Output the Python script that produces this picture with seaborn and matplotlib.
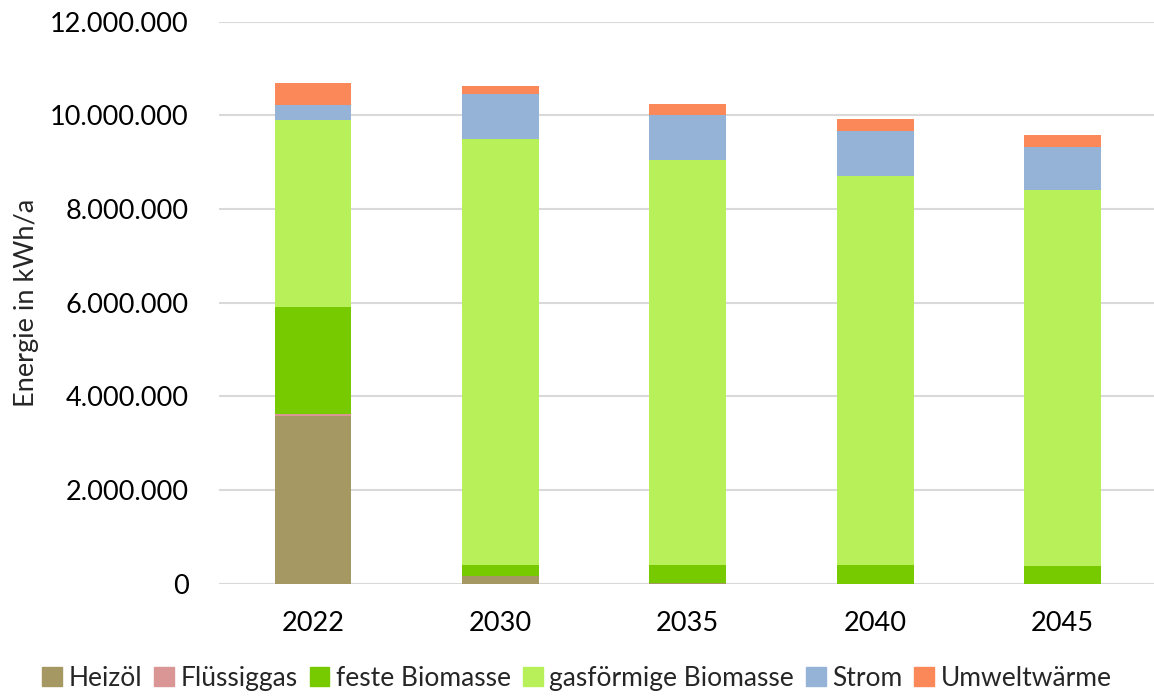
import numpy as np
import pandas as pd
import matplotlib
matplotlib.use("Agg")
import matplotlib.pyplot as plt
import matplotlib.patches as mpatches
import seaborn as sns

years = ["2022", "2030", "2035", "2040", "2045"]
traeger = ["Heizöl", "Flüssiggas", "feste Biomasse", "gasförmige Biomasse", "Strom", "Umweltwärme"]
heizoel = [3570000, 170000, 20000, 0, 0]
fluessiggas = [50000, 0, 0, 0, 0]
feste_biomasse = [2280000, 236000, 380000, 390000, 370000]
gas_biomasse = [3990000, 9090000, 8640000, 8315000, 8043000]
strom = [330000, 955000, 967000, 953000, 918000]
umweltwaerme = [460000, 170000, 240000, 256000, 250000]
farben = ["#A59862", "#DA9694", "#77C900", "#B7F059", "#95B3D7", "#FA8858"]

werte = [heizoel, fluessiggas, feste_biomasse, gas_biomasse, strom, umweltwaerme]

sns.set_style("white")
plt.rcParams['font.family'] = ['Lato', 'DejaVu Sans']

fig = plt.figure(figsize=(11.54, 6.99), dpi=100)
ax = fig.add_axes([0.190, 0.165, 0.812, 0.804])

# gestapelt: kumulierte Summen von oben nach unten zeichnen
kum = np.cumsum(np.array(werte), axis=0)
for i in range(len(traeger) - 1, -1, -1):
    df = pd.DataFrame({"Jahr": years, "Wert": kum[i]})
    sns.barplot(data=df, x="Jahr", y="Wert", color=farben[i], width=0.41,
                saturation=1, linewidth=0, ax=ax, zorder=3)

ax.set_ylim(0, 12000000)
ax.set_xlim(-0.5, 4.5)
ax.set_yticks(range(0, 12000001, 2000000))
ax.set_yticklabels([f"{v:,}".replace(",", ".") for v in range(0, 12000001, 2000000)])
ax.yaxis.grid(True, color="#D9D9D9", linewidth=1.5, zorder=0)
ax.set_axisbelow(True)
for s in ax.spines.values():
    s.set_visible(False)
ax.tick_params(axis="both", length=0, labelsize=19.5, colors="#000000")
ax.tick_params(axis="x", pad=20)
ax.tick_params(axis="y", pad=22)
ax.set_xlabel("")
ax.set_ylabel("Energie in kWh/a", fontsize=19.5)
ax.yaxis.set_label_coords(-0.192, 0.5)

handles = [mpatches.Patch(color=c, label=t) for c, t in zip(farben, traeger)]
fig.legend(handles=handles, loc="lower center", bbox_to_anchor=(0.5, -0.022), ncol=6,
           frameon=False, fontsize=19, handlelength=0.75, handleheight=0.75,
           handletextpad=0.25, columnspacing=0.45)

fig.savefig("out.png", dpi=100)
